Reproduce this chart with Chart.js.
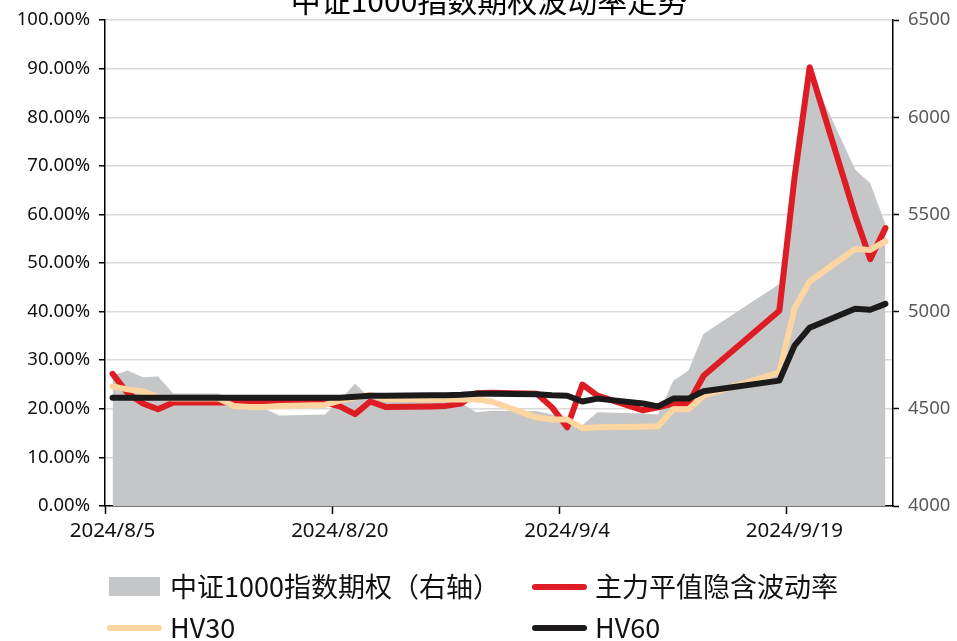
<!DOCTYPE html>
<html>
<head>
<meta charset="utf-8">
<script src="https://cdn.jsdelivr.net/npm/chart.js@4.4.1/dist/chart.umd.min.js"></script>
<style>
  html, body { margin: 0; padding: 0; background: #fff; }
  #wrap { position: relative; width: 957px; height: 641px; }
  #volChart { position: absolute; left: 0; top: 0; }
  .lg-text { position: absolute; font-family: "Noto Sans CJK SC", sans-serif; font-size: 27px; line-height: 36px; color: #111; white-space: nowrap; }
  .lg-mark { position: absolute; }
</style>
</head>
<body>
<div id="wrap">
  <canvas id="volChart" width="957" height="641"></canvas>
  <div id="legend"></div>
</div>
<script>
const titleText = '中证1000指数期权波动率走势';
const startDate = '2024/8/5';
const tickLabels = ['2024/8/5', '2024/8/20', '2024/9/4', '2024/9/19'];
const seriesNames = ['中证1000指数期权（右轴）', '主力平值隐含波动率', 'HV30', 'HV60'];

// trading days
const dates = [
  '2024/8/5', '2024/8/6', '2024/8/7', '2024/8/8', '2024/8/9',
  '2024/8/12', '2024/8/13', '2024/8/14', '2024/8/15', '2024/8/16',
  '2024/8/19', '2024/8/20', '2024/8/21', '2024/8/22', '2024/8/23',
  '2024/8/26', '2024/8/27', '2024/8/28', '2024/8/29', '2024/8/30',
  '2024/9/2', '2024/9/3', '2024/9/4', '2024/9/5', '2024/9/6',
  '2024/9/9', '2024/9/10', '2024/9/11', '2024/9/12', '2024/9/13',
  '2024/9/18', '2024/9/19', '2024/9/20',
  '2024/9/23', '2024/9/24', '2024/9/25'
];
// index level (right axis)
const indexClose = [
  4671, 4697, 4662, 4666, 4579,
  4579, 4543, 4517, 4502, 4466,
  4471, 4543, 4630, 4553, 4550,
  4545, 4580, 4530, 4482, 4490,
  4487, 4471, 4440, 4415, 4482,
  4476, 4471, 4645, 4697, 4886,
  5142, 5700, 6240,
  5731, 5660, 5450
];
// % values (left axis)
const atmIV = [
  27.2, 23.2, 21.1, 19.9, 21.3,
  21.3, 21.3, 21.3, 21.3, 21.3,
  21.3, 20.5, 18.9, 21.5, 20.4,
  20.5, 20.6, 21.1, 23.2, 23.3,
  23.1, 20.3, 16.2, 25.0, 22.7,
  19.7, 20.3, 21.1, 21.1, 26.8,
  40.2, 67.5, 90.3,
  59.8, 50.8, 57.2
];
const hv30 = [
  24.6, 24.0, 23.6, 22.4, 22.1,
  22.1, 20.6, 20.4, 20.4, 20.6,
  20.8, 21.7, 22.3, 22.9, 22.0,
  21.9, 21.9, 21.9, 21.9, 21.5,
  18.2, 17.8, 17.8, 16.0, 16.2,
  16.3, 16.4, 19.9, 19.9, 22.7,
  27.5, 40.7, 46.2,
  52.9, 52.7, 54.5
];
const hv60 = [
  22.3, 22.3, 22.3, 22.3, 22.3,
  22.3, 22.3, 22.3, 22.3, 22.3,
  22.3, 22.3, 22.5, 22.7, 22.7,
  22.8, 22.8, 22.9, 23.1, 23.1,
  23.0, 22.8, 22.7, 21.5, 22.1,
  21.1, 20.5, 22.1, 22.1, 23.6,
  25.8, 33.0, 36.7,
  40.6, 40.4, 41.6
];

function dayIndex(s) {
  const [y, m, d] = s.split('/').map(Number);
  const [y0, m0, d0] = startDate.split('/').map(Number);
  return Math.round((Date.UTC(y, m - 1, d) - Date.UTC(y0, m0 - 1, d0)) / 86400000);
}
const xs = dates.map(dayIndex);
const tickDays = tickLabels.map(dayIndex);
const pts = vals => vals.map((v, i) => ({ x: xs[i], y: v }));

const colors = { index: '#c5c6c8', iv: '#dd1c24', hv30: '#fcd5a0', hv60: '#1c1a1b' };

const titlePlugin = {
  id: 'cutTitle',
  afterDraw(chart) {
    const ctx = chart.ctx;
    ctx.save();
    ctx.font = '30px "Noto Sans CJK SC"';
    ctx.fillStyle = '#000';
    ctx.textAlign = 'center';
    ctx.textBaseline = 'alphabetic';
    ctx.fillText(titleText, 489, 12);
    ctx.restore();
  }
};

const tickFont = { family: '"Noto Sans", sans-serif', size: 18.5 };

const chart = new Chart(document.getElementById('volChart'), {
  type: 'line',
  data: {
    datasets: [
      { label: seriesNames[0], data: pts(indexClose), yAxisID: 'y1', fill: 'start',
        backgroundColor: colors.index, borderWidth: 0, pointRadius: 0, order: 4 },
      { label: seriesNames[1], data: pts(atmIV), yAxisID: 'y', fill: false,
        borderColor: colors.iv, borderWidth: 6, pointRadius: 0, order: 3 },
      { label: seriesNames[2], data: pts(hv30), yAxisID: 'y', fill: false,
        borderColor: colors.hv30, borderWidth: 6, pointRadius: 0, order: 2 },
      { label: seriesNames[3], data: pts(hv60), yAxisID: 'y', fill: false,
        borderColor: colors.hv60, borderWidth: 6, pointRadius: 0, order: 1 }
    ]
  },
  options: {
    responsive: false,
    animation: false,
    layout: { padding: { top: 18, bottom: 95, left: 0, right: 0 } },
    plugins: { legend: { display: false }, tooltip: { enabled: false }, title: { display: false } },
    elements: { line: { tension: 0, borderCapStyle: 'round', borderJoinStyle: 'round' } },
    scales: {
      x: {
        type: 'linear',
        min: xs[0] - 0.5,
        max: xs[xs.length - 1] + 0.5,
        afterBuildTicks: s => { s.ticks = tickDays.map(d => ({ value: d - 0.5 })); },
        afterFit: s => { s.height = 40; },
        grid: { drawOnChartArea: false, tickLength: 8, tickColor: '#000', tickWidth: 1.5 },
        border: { color: '#000', width: 1.5 },
        ticks: {
          autoSkip: false, maxRotation: 0, minRotation: 0,
          labelOffset: 7.5, padding: 5, color: '#111',
          font: { family: '"Noto Sans", sans-serif', size: 20.5 },
          callback: (v, i) => tickLabels[i]
        }
      },
      y: {
        position: 'left',
        min: 0, max: 100,
        afterFit: s => { s.width = 105; },
        grid: { color: '#d9d9d9', lineWidth: 1.5, tickColor: '#000', tickLength: 6, tickWidth: 1.5 },
        border: { color: '#000', width: 1.5 },
        ticks: { stepSize: 10, padding: 9, color: '#111', font: tickFont, callback: v => v.toFixed(2) + '%' }
      },
      y1: {
        position: 'right',
        min: 4000, max: 6500,
        afterFit: s => { s.width = 64; },
        grid: { drawOnChartArea: false, tickColor: '#000', tickLength: 6, tickWidth: 1.5 },
        border: { color: '#000', width: 1.5 },
        ticks: { stepSize: 500, padding: 9, color: '#595959', font: tickFont, callback: v => String(v) }
      }
    }
  },
  plugins: [titlePlugin]
});

// legend: two columns like the source
const legendSlots = [
  { mx: 109, tx: 170, cy: 587 },
  { mx: 532, tx: 595, cy: 587 },
  { mx: 107, tx: 170, cy: 628 },
  { mx: 532, tx: 595, cy: 628 }
];
const legendEl = document.getElementById('legend');
chart.data.datasets.forEach((ds, i) => {
  const slot = legendSlots[i];
  const mark = document.createElement('div');
  mark.className = 'lg-mark';
  if (ds.fill) {
    Object.assign(mark.style, { left: slot.mx + 'px', top: (slot.cy - 10) + 'px', width: '51px', height: '19px', background: ds.backgroundColor });
  } else {
    Object.assign(mark.style, { left: slot.mx + 'px', top: (slot.cy - 3) + 'px', width: '55px', height: '6px', borderRadius: '3px', background: ds.borderColor });
  }
  const txt = document.createElement('div');
  txt.className = 'lg-text';
  txt.textContent = ds.label;
  txt.style.left = slot.tx + 'px';
  txt.style.top = (slot.cy - 19) + 'px';
  legendEl.appendChild(mark);
  legendEl.appendChild(txt);
});
</script>
</body>
</html>
